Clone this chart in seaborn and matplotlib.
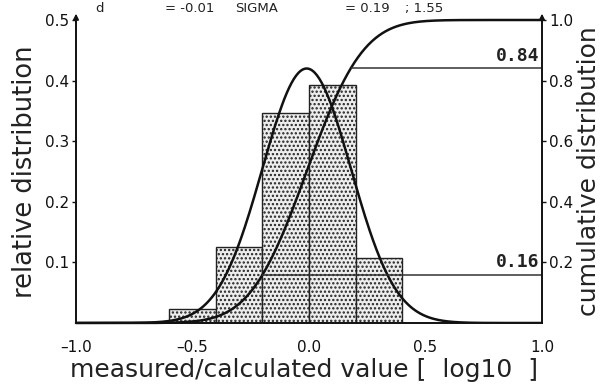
import numpy as np
import pandas as pd
import matplotlib
matplotlib.use("Agg")
import matplotlib.pyplot as plt
import seaborn as sns
from math import erf, sqrt, pi

# ---- data ----
bin_edges = [-0.6, -0.4, -0.2, 0.0, 0.2, 0.4]
bin_centers = [-0.5, -0.3, -0.1, 0.1, 0.3]
rel_freq = [0.023, 0.125, 0.346, 0.392, 0.107]
mu = -0.01
sigma = 0.19
bin_width = 0.2
quantile_levels = [0.16, 0.84]
quantile_labels = ["0.16", "0.84"]
x_ticks = [-1.0, -0.5, 0.0, 0.5, 1.0]
x_ticklabels = ["\u20131.0", "\u20130.5", "0.0", "0.5", "1.0"]
left_ticks = [0.1, 0.2, 0.3, 0.4, 0.5]
right_ticks = [0.2, 0.4, 0.6, 0.8, 1.0]
title_parts = ["d", "= -0.01", "SIGMA", "= 0.19", "; 1.55"]

sns.set_theme(style="white")
plt.rcParams["font.family"] = ["DejaVu Sans"]
plt.rcParams["hatch.color"] = "#555555"
plt.rcParams["hatch.linewidth"] = 1.1

W, H = 609, 388
fig = plt.figure(figsize=(W / 100, H / 100), dpi=100)
ax = fig.add_axes([76 / W, (H - 323) / H, (542 - 76) / W, (323 - 20) / H])

# histogram (bars from bin values)
sns.histplot(x=bin_centers, weights=rel_freq, bins=bin_edges, stat="count",
             ax=ax, color="#f2f2f2", edgecolor="black", linewidth=1.0, alpha=1)
for p in ax.patches:
    p.set_hatch("....")
    p.set_facecolor("#ededed")
    p.set_edgecolor("#222222")

# fitted normal curves
xs = np.linspace(-1.0, 1.0, 401)
pdf = bin_width * np.exp(-0.5 * ((xs - mu) / sigma) ** 2) / (sigma * sqrt(2 * pi))
cdf = np.array([0.5 * (1 + erf((v - mu) / (sigma * sqrt(2)))) for v in xs])
sns.lineplot(x=xs, y=pdf, ax=ax, color="#111111", lw=1.8)

ax.set_xlim(-1.0, 1.0)
ax.set_ylim(0, 0.5)

ax2 = ax.twinx()
sns.lineplot(x=xs, y=cdf, ax=ax2, color="#111111", lw=1.8, clip_on=False)
ax2.set_ylim(0, 1.0)
ax2.set_xlim(-1.0, 1.0)

# quantile lines
q_x = [mu - sigma, mu + sigma]
for lvl, lab, qx in zip(quantile_levels, quantile_labels, q_x):
    ax2.hlines(lvl, qx, 1.0, color="#333333", lw=1.1)
    ax2.text(0.99, lvl + 0.01, lab, ha="right", va="bottom",
             family="DejaVu Sans Mono", fontweight="bold", fontsize=13, color="#222222")

# spines
for a in (ax, ax2):
    a.spines["top"].set_visible(False)
    for s in a.spines.values():
        s.set_linewidth(1.4)
        s.set_color("#111111")
ax.spines["right"].set_visible(False)
ax2.spines["left"].set_visible(False)
ax2.spines["bottom"].set_visible(False)

ax.set_xticks(x_ticks)
ax.set_xticklabels(x_ticklabels)
ax.set_yticks(left_ticks)
ax.set_yticklabels([f"{v:.1f}" for v in left_ticks])
ax2.set_yticks(right_ticks)
ax2.set_yticklabels([f"{v:.1f}" for v in right_ticks])
ax.tick_params(axis="x", direction="out", length=6, width=1.2, labelsize=11, pad=6, colors="#111111")
ax.tick_params(axis="y", direction="out", length=3, width=1.0, labelsize=11, pad=2, colors="#111111")
ax2.tick_params(axis="y", direction="out", length=3, width=1.0, labelsize=11, pad=2, colors="#111111")

ax.set_ylabel("relative distribution", fontsize=18.5, labelpad=5, color="#222222")
ax2.set_ylabel("cumulative distribution", fontsize=18, labelpad=3, color="#222222")
ax.set_xlabel("measured/calculated value [  log10  ]", fontsize=18, labelpad=0, color="#222222")
ax.xaxis.set_label_coords(0.49, -0.115)
ax.grid(False)
ax2.grid(False)

# arrows on the vertical spines
for xa in (0.0, 1.0):
    ax.annotate("", xy=(xa, 1.03), xytext=(xa, 0.98), xycoords="axes fraction",
                arrowprops=dict(arrowstyle="-|>", color="#111111", lw=1.2, mutation_scale=8))

# title line at the very top of the picture
title_x = [95, 165, 235, 345, 405]
for tx, part in zip(title_x, title_parts):
    fig.text(tx / W, 1 - 12 / H, part, ha="left", va="baseline", fontsize=9.5, color="#222222")

fig.savefig("out.png", dpi=100, facecolor="white")
